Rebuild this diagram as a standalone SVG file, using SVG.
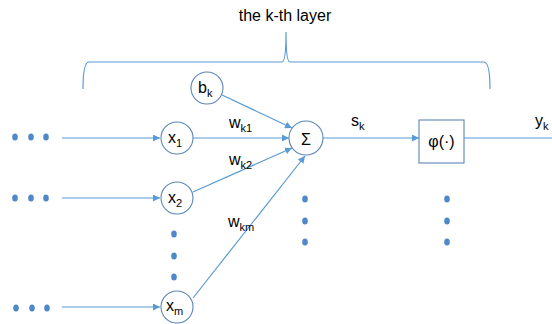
<svg xmlns="http://www.w3.org/2000/svg" width="552" height="324" viewBox="0 0 552 324">
<style>
.ln{stroke:#5B9BD5;stroke-width:1.2;fill:none}
.nd{fill:#fff;stroke:#5A86B8;stroke-width:1.1}
.t{font-family:"Liberation Sans",Arial,sans-serif;font-size:16px;fill:#000}
.s{font-size:11px}
.dot{fill:#4F88C6}
</style>
<defs>
<marker id="ah" viewBox="0 0 10 10" refX="10" refY="5" markerWidth="7" markerHeight="7" orient="auto" markerUnits="userSpaceOnUse">
<path d="M0,0 L10,5 L0,10 z" fill="#5B9BD5"/>
</marker>
</defs>
<text class="t" x="285" y="21" text-anchor="middle" font-size="17">the k-th layer</text>
<path class="ln" d="M83,89 Q83,62 89,62 L282,62 Q286,62 286,32 Q286,62 290,62 L484,62 Q490,62 490,89"/>
<g id="connectors">
<line class="ln" x1="62" y1="138" x2="160" y2="138" marker-end="url(#ah)"/>
<line class="ln" x1="62" y1="198" x2="160" y2="198" marker-end="url(#ah)"/>
<line class="ln" x1="62" y1="307" x2="160" y2="307" marker-end="url(#ah)"/>
<line class="ln" x1="222" y1="95" x2="292" y2="128" marker-end="url(#ah)"/>
<line class="ln" x1="193" y1="138" x2="289" y2="138" marker-end="url(#ah)"/>
<line class="ln" x1="193" y1="192" x2="292" y2="148" marker-end="url(#ah)"/>
<line class="ln" x1="193" y1="298" x2="305" y2="156" marker-end="url(#ah)"/>
<line class="ln" x1="323" y1="138" x2="419" y2="138" marker-end="url(#ah)"/>
<line class="ln" x1="464" y1="138" x2="552" y2="138"/>
</g>
<g id="b_k"><circle class="nd" cx="207" cy="88" r="16"/><text class="t" x="198" y="93">b<tspan class="s" dy="4">k</tspan></text></g>
<g id="x1"><circle class="nd" cx="177" cy="138" r="16"/><text class="t" x="168" y="143">x<tspan class="s" dy="4">1</tspan></text></g>
<g id="x2"><circle class="nd" cx="177" cy="198" r="16"/><text class="t" x="168" y="203">x<tspan class="s" dy="4">2</tspan></text></g>
<g id="xm"><circle class="nd" cx="177" cy="307" r="16"/><text class="t" x="166" y="311">x<tspan class="s" dy="4">m</tspan></text></g>
<g id="sum"><circle class="nd" cx="306" cy="138" r="17"/><text class="t" x="306" y="145" text-anchor="middle" font-size="19">Σ</text></g>
<g id="phi"><rect class="nd" x="419" y="120" width="45" height="43"/><text class="t" x="441.5" y="147" text-anchor="middle">φ(·)</text></g>
<text class="t" x="229" y="128">w<tspan class="s" dy="4">k1</tspan></text>
<text class="t" x="229" y="165">w<tspan class="s" dy="4">k2</tspan></text>
<text class="t" x="228" y="227">w<tspan class="s" dy="4">km</tspan></text>
<text class="t" x="351" y="126">s<tspan class="s" dy="4">k</tspan></text>
<text class="t" x="535" y="126">y<tspan class="s" dy="4">k</tspan></text>
<g id="dots">
<ellipse class="dot" cx="15" cy="137" rx="2.8" ry="3.5"/><ellipse class="dot" cx="31" cy="137" rx="2.8" ry="3.5"/><ellipse class="dot" cx="46" cy="137" rx="2.8" ry="3.5"/>
<ellipse class="dot" cx="15" cy="198" rx="2.8" ry="3.5"/><ellipse class="dot" cx="31" cy="198" rx="2.8" ry="3.5"/><ellipse class="dot" cx="46" cy="198" rx="2.8" ry="3.5"/>
<ellipse class="dot" cx="16" cy="308" rx="2.8" ry="3.5"/><ellipse class="dot" cx="32" cy="308" rx="2.8" ry="3.5"/><ellipse class="dot" cx="47" cy="308" rx="2.8" ry="3.5"/>
<ellipse class="dot" cx="174" cy="234" rx="2.8" ry="3.5"/><ellipse class="dot" cx="174" cy="256" rx="2.8" ry="3.5"/><ellipse class="dot" cx="174" cy="277" rx="2.8" ry="3.5"/>
<ellipse class="dot" cx="305" cy="199" rx="2.8" ry="3.5"/><ellipse class="dot" cx="305" cy="221" rx="2.8" ry="3.5"/><ellipse class="dot" cx="305" cy="242" rx="2.8" ry="3.5"/>
<ellipse class="dot" cx="447" cy="199" rx="2.8" ry="3.5"/><ellipse class="dot" cx="447" cy="221" rx="2.8" ry="3.5"/><ellipse class="dot" cx="447" cy="242" rx="2.8" ry="3.5"/>
</g>
</svg>
